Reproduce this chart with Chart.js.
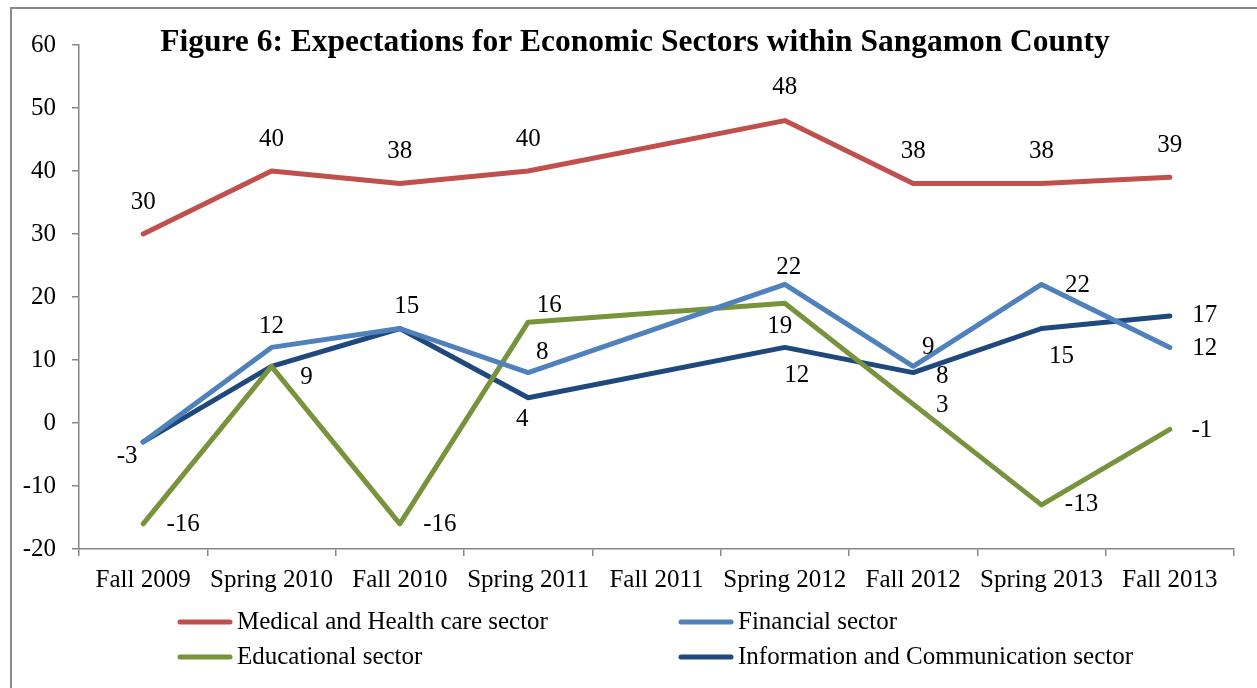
<!DOCTYPE html>
<html>
<head>
<meta charset="utf-8">
<script src="https://cdn.jsdelivr.net/npm/chart.js@4"></script>
<style>
  html, body { margin: 0; padding: 0; background: #ffffff; }
  #wrap { width: 1257px; height: 688px; position: relative; }
</style>
</head>
<body>
<div id="wrap"><canvas id="chart" width="1257" height="688"></canvas></div>
<script>
// Survey periods (no survey was reported for Fall 2011)
const categories = ['Fall 2009', 'Spring 2010', 'Fall 2010', 'Spring 2011', 'Fall 2011',
                    'Spring 2012', 'Fall 2012', 'Spring 2013', 'Fall 2013'];

// Net expectation scores by sector
const medicalHealth   = [30, 40, 38, 40, null, 48, 38, 38, 39];
const financial       = [-3, 12, 15, 8, null, 22, 9, 22, 12];
const educational     = [-16, 9, -16, 16, null, 19, 3, -13, -1];
const infoComm        = [-3, 9, 15, 4, null, 12, 8, 15, 17];

// Y axis range and step
const yMin = -20, yMax = 60, yStep = 10;

const seriesNames = ['Medical and Health care sector', 'Financial sector',
                     'Educational sector', 'Information and Communication sector'];
const seriesColors = ['#C0504D', '#4F81BD', '#77933C', '#1F497D'];

// Value-label placement relative to each point: [dx, dy] in px, null = no label
const labelOffsets = [
  [[0,-32],[0,-32],[0,-32],[0,-32],null,[0,-33],[0,-32],[0,-32],[0,-32]],
  [null,[0,-21],[7,-22],[14,-20],null,[4,-17],[15,-19],[36,1],[35,1]],
  [[40,1],null,[40,1],[21,-17],null,[-5,23],[29,1],[40,0],[32,1]],
  [[-16,15],[35,11],null,[-6,22],null,[12,28],[29,4],[20,28],[35,0]]
];

const SERIF = '"Liberation Serif", "Times New Roman", serif';
const AXIS_GRAY = '#868686';
const TEXT_SIZE = 25;

const framePlugin = {
  id: 'frame',
  beforeDraw(chart) {
    const ctx = chart.ctx;
    ctx.save();
    ctx.fillStyle = '#ffffff';
    ctx.fillRect(0, 0, chart.width, chart.height);
    ctx.strokeStyle = '#8a8a8a';
    ctx.lineWidth = 2;
    ctx.strokeRect(11, 8, 1400, 1000);
    ctx.restore();
  }
};

const titlePlugin = {
  id: 'figTitle',
  afterDraw(chart) {
    const ctx = chart.ctx;
    ctx.save();
    ctx.font = 'bold 31.5px ' + SERIF;
    ctx.fillStyle = '#000000';
    ctx.textAlign = 'center';
    ctx.textBaseline = 'alphabetic';
    ctx.fillText('Figure 6: Expectations for Economic Sectors within Sangamon County', 635, 51);
    ctx.restore();
  }
};

const valueLabelPlugin = {
  id: 'valueLabels',
  afterDatasetsDraw(chart) {
    const ctx = chart.ctx;
    ctx.save();
    ctx.font = TEXT_SIZE + 'px ' + SERIF;
    ctx.fillStyle = '#000000';
    ctx.textAlign = 'center';
    ctx.textBaseline = 'middle';
    chart.data.datasets.forEach((ds, di) => {
      const meta = chart.getDatasetMeta(di);
      meta.data.forEach((pt, i) => {
        const v = ds.data[i];
        const off = labelOffsets[di][i];
        if (v === null || !off) return;
        ctx.fillText(String(v), pt.x + off[0], pt.y + off[1]);
      });
    });
    ctx.restore();
  }
};

// Two-column legend below the axis
const legendPlugin = {
  id: 'gridLegend',
  afterDraw(chart) {
    const ctx = chart.ctx;
    const cols = [178, 679];
    const rows = [622, 657];
    ctx.save();
    ctx.font = TEXT_SIZE + 'px ' + SERIF;
    ctx.textAlign = 'left';
    ctx.textBaseline = 'middle';
    chart.data.datasets.forEach((ds, di) => {
      const x = cols[di % 2];
      const y = rows[Math.floor(di / 2)];
      ctx.strokeStyle = ds.borderColor;
      ctx.lineWidth = 5;
      ctx.lineCap = 'round';
      ctx.beginPath();
      ctx.moveTo(x + 2, y);
      ctx.lineTo(x + 52, y);
      ctx.stroke();
      ctx.fillStyle = '#000000';
      ctx.fillText(ds.label, x + 59, y);
    });
    ctx.restore();
  }
};

const seriesData = [medicalHealth, financial, educational, infoComm];

new Chart(document.getElementById('chart'), {
  type: 'line',
  data: {
    labels: categories,
    datasets: seriesData.map((d, i) => ({
      label: seriesNames[i],
      data: d,
      borderColor: seriesColors[i],
      backgroundColor: seriesColors[i],
      borderWidth: 5,
      borderCapStyle: 'round',
      borderJoinStyle: 'round',
      pointRadius: 0,
      pointHoverRadius: 0,
      tension: 0,
      spanGaps: true,
      fill: false
    }))
  },
  options: {
    responsive: false,
    animation: false,
    events: [],
    layout: { padding: { top: 45, right: 23, left: 0, bottom: 0 } },
    plugins: {
      legend: { display: false },
      title: { display: false },
      tooltip: { enabled: false }
    },
    scales: {
      x: {
        type: 'category',
        offset: true,
        afterFit(scale) { scale.height = 139; },
        grid: {
          offset: true,
          drawOnChartArea: false,
          drawTicks: true,
          tickLength: 7,
          color: AXIS_GRAY,
          lineWidth: 1.5
        },
        border: { display: true, color: AXIS_GRAY, width: 1.5 },
        ticks: {
          autoSkip: false,
          maxRotation: 0,
          padding: 9,
          color: '#000000',
          font: { family: SERIF, size: TEXT_SIZE }
        }
      },
      y: {
        min: yMin,
        max: yMax,
        afterFit(scale) { scale.width = 79; },
        grid: {
          drawOnChartArea: false,
          drawTicks: true,
          tickLength: 7,
          color: AXIS_GRAY,
          lineWidth: 1.5
        },
        border: { display: true, color: AXIS_GRAY, width: 1.5 },
        ticks: {
          stepSize: yStep,
          padding: 16,
          color: '#000000',
          font: { family: SERIF, size: TEXT_SIZE }
        }
      }
    }
  },
  plugins: [framePlugin, titlePlugin, valueLabelPlugin, legendPlugin]
});
</script>
</body>
</html>
